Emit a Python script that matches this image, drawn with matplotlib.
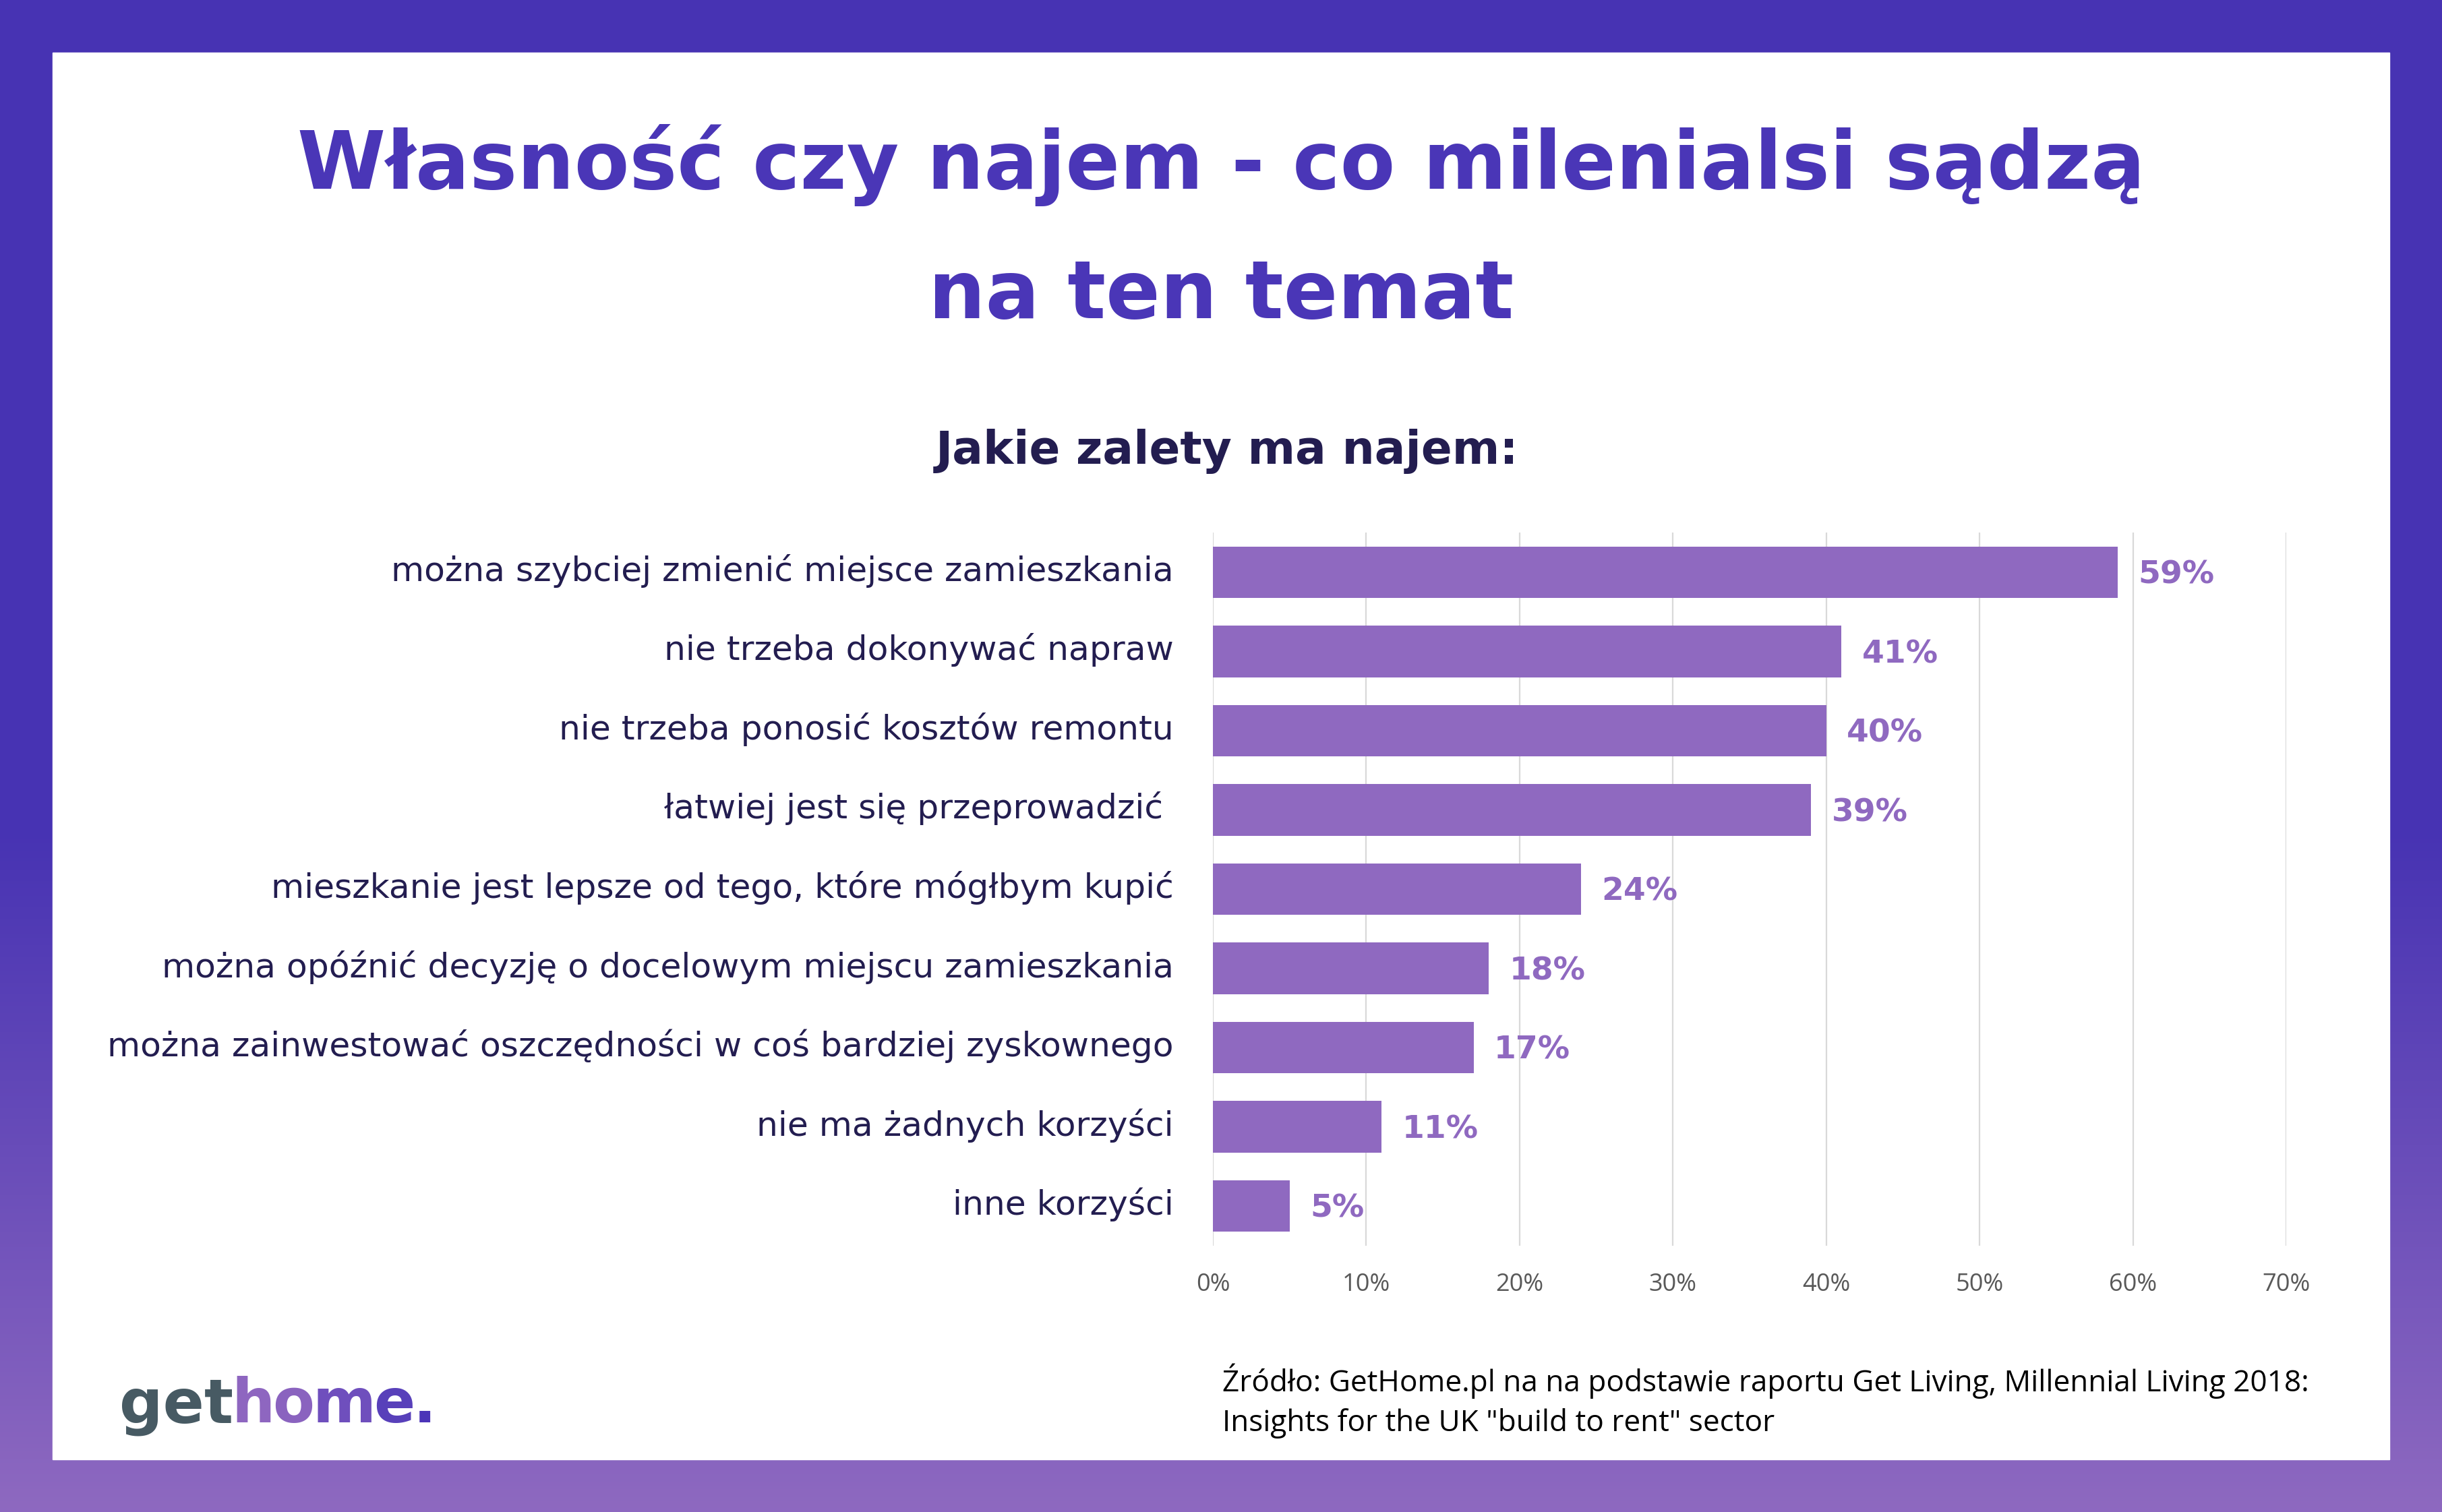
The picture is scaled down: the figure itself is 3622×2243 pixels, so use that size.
import matplotlib
matplotlib.use("Agg")
import matplotlib.pyplot as plt
from matplotlib.patches import Rectangle
from matplotlib.transforms import ScaledTranslation
import numpy as np

W, H = 3622, 2243

kategorie = [
    "można szybciej zmienić miejsce zamieszkania",
    "nie trzeba dokonywać napraw",
    "nie trzeba ponosić kosztów remontu",
    "łatwiej jest się przeprowadzić ",
    "mieszkanie jest lepsze od tego, które mógłbym kupić",
    "można opóźnić decyzję o docelowym miejscu zamieszkania",
    "można zainwestować oszczędności w coś bardziej zyskownego",
    "nie ma żadnych korzyści",
    "inne korzyści",
]
wartosci = [59, 41, 40, 39, 24, 18, 17, 11, 5]
osie_x = [0, 10, 20, 30, 40, 50, 60, 70]

tytul_1 = "Własność czy najem - co milenialsi sądzą"
tytul_2 = "na ten temat"
podtytul = "Jakie zalety ma najem:"
zrodlo_1 = "Źródło: GetHome.pl na na podstawie raportu Get Living, Millennial Living 2018:"
zrodlo_2 = 'Insights for the UK "build to rent" sector'

fiolet = "#8F69C0"
granat = "#4A36B7"
ciemny = "#231D50"


def fx(px):
    return px / W


def fy(py):
    return 1 - py / H


fig = plt.figure(figsize=(W / 100, H / 100), dpi=100)

# tlo z gradientem
bg = fig.add_axes([0, 0, 1, 1], zorder=-10)
t = np.linspace(0, 1, 400)
k = np.clip((t - 0.55) / 0.45, 0, 1)
top = np.array([71, 51, 179]) / 255
bot = np.array([142, 105, 192]) / 255
grad = top[None, :] * (1 - k[:, None]) + bot[None, :] * k[:, None]
bg.imshow(grad[:, None, :], aspect="auto", extent=[0, 1, 0, 1])
bg.set_axis_off()
bg.add_patch(Rectangle((fx(78), fy(2165)), fx(3544 - 78), (2165 - 78) / H,
                       color="white", transform=bg.transAxes))

renderer = fig.canvas.get_renderer()


def dopasuj(txt, szer):
    w = txt.get_window_extent(renderer).width
    txt.set_fontsize(txt.get_fontsize() * szer / w)


t1 = fig.text(0.5, fy(280), tytul_1, ha="center", va="baseline", fontsize=80,
              fontweight="bold", color=granat, family="DejaVu Sans")
dopasuj(t1, 2740)
fig.text(0.5, fy(472), tytul_2, ha="center", va="baseline",
         fontsize=t1.get_fontsize(), fontweight="bold", color=granat,
         family="DejaVu Sans")

st = fig.text(fx(1820), fy(688), podtytul, ha="center", va="baseline",
              fontsize=50, fontweight="bold", color=ciemny, family="DejaVu Sans")
dopasuj(st, 866)

# wykres
ax = fig.add_axes([fx(1799), fy(1848), fx(3391 - 1799), (1848 - 790) / H])
y = np.arange(len(kategorie))
ax.barh(y, wartosci, height=0.65, color=fiolet, zorder=3)
ax.set_ylim(len(kategorie) - 0.5, -0.5)
ax.set_xlim(0, 70)
ax.set_xticks(osie_x)
ax.set_xticklabels([f"{v}%" for v in osie_x], family="Open Sans", fontsize=26,
                   color="#595959")
ax.set_yticks(y)
ax.set_yticklabels(kategorie, family="DejaVu Sans", fontsize=35, color=ciemny)
ax.tick_params(axis="x", length=0, pad=29)
ax.tick_params(axis="y", length=0, pad=42)
ax.grid(axis="x", color="#D9D9D9", linewidth=1.6, zorder=0)
ax.set_axisbelow(True)
for s in ax.spines.values():
    s.set_visible(False)

# dopasuj rozmiar etykiet do najdluzszej
fig.canvas.draw()
lbl = ax.get_yticklabels()[6]
w = lbl.get_window_extent(renderer).width
rozm = 35 * 1582 / w
przes = ScaledTranslation(0, 7 / 100, fig.dpi_scale_trans)
for l in ax.get_yticklabels():
    l.set_fontsize(rozm)
    l.set_transform(l.get_transform() + przes)

for yi, v in zip(y, wartosci):
    ax.annotate(f"{v}%", (v, yi), xytext=(22, -3), textcoords="offset points",
                ha="left", va="center", fontsize=34, fontweight="bold",
                color=fiolet, family="DejaVu Sans")

# zrodlo
z1 = fig.text(fx(1813), fy(2049), zrodlo_1, ha="left", va="center",
              fontsize=30, color="black", family="Open Sans")
dopasuj(z1, 1613)
fig.text(fx(1813), fy(2111), zrodlo_2, ha="left", va="center",
         fontsize=z1.get_fontsize(), color="black", family="Open Sans")

# logo
logo = [("get", "#475A63"), ("h", "#8E66C0"), ("o", "#8A63BF"),
        ("m", "#6F4FBD"), ("e", "#5840BA"), (".", "#4B34B8")]
x0 = 177
for czesc, kol in logo:
    tx = fig.text(fx(x0), fy(2110), czesc, ha="left", va="baseline",
                  fontsize=65, fontweight="bold", color=kol, family="DejaVu Sans")
    x0 += tx.get_window_extent(renderer).width - 3

fig.savefig("out.png", dpi=100)
